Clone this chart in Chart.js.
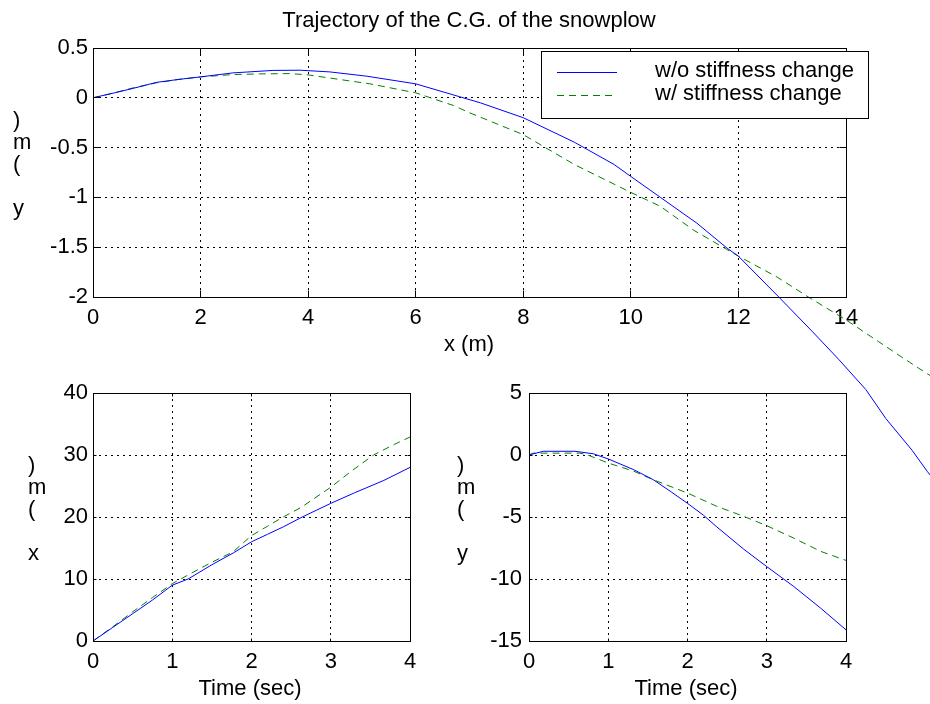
<!DOCTYPE html>
<html><head><meta charset="utf-8">
<script src="https://cdn.jsdelivr.net/npm/chart.js@4.4.1/dist/chart.umd.min.js"></script>
<style>
html,body{margin:0;padding:0;background:#fff;}
#wrap{position:relative;width:930px;height:704px;overflow:hidden;background:#fff;}
canvas{position:absolute;left:0;top:0;}
</style></head><body>
<div id="wrap">
<canvas id="cBL" width="930" height="704"></canvas>
<canvas id="cBR" width="930" height="704"></canvas>
<canvas id="cTop" width="930" height="704"></canvas>
</div>
<script>
// ---------- text ----------
const titleText = 'Trajectory of the C.G. of the snowplow';
const seriesNames = ['w/o stiffness change', 'w/ stiffness change'];
const topXLabel = 'x (m)';
const topYLabel = 'y (m)';
const blXLabel = 'Time (sec)';
const blYLabel = 'x (m)';
const brXLabel = 'Time (sec)';
const brYLabel = 'y (m)';

// ---------- data: trajectory (x vs y) ----------
const trajXNo   = [0, 0.4, 0.75, 1.18, 1.6, 2, 2.6, 3.35, 3.85, 4.4, 5.09, 6, 6.82, 7.2, 8, 8.95, 9.69, 10, 10.55, 11.23, 11.79, 12, 12.75, 13.38, 13.87, 14.37, 14.74, 15.23, 15.51, 15.8];
const trajYNo   = [0, 0.05, 0.095, 0.155, 0.185, 0.21, 0.25, 0.275, 0.277, 0.26, 0.217, 0.14, 0.01, -0.05, -0.2, -0.446, -0.67, -0.79, -1.0, -1.26, -1.51, -1.59, -2.0, -2.35, -2.63, -2.93, -3.22, -3.54, -3.75, -3.95];
const trajXWith = [0, 0.4, 0.75, 1.18, 1.6, 2, 2.6, 3.1, 3.66, 4, 4.6, 5.15, 6, 6.7, 7.0, 8, 8.95, 10, 10.55, 11.17, 12, 12.72, 13.3, 14.0, 14.61, 15.11, 15.51, 15.8];
const trajYWith = [0, 0.05, 0.1, 0.15, 0.185, 0.21, 0.233, 0.24, 0.243, 0.23, 0.183, 0.14, 0.05, -0.077, -0.15, -0.37, -0.67, -0.95, -1.09, -1.33, -1.59, -1.8, -2.0, -2.23, -2.45, -2.63, -2.77, -2.87];

// ---------- data: x vs time ----------
const tNoX   = [0, 0.25, 0.5, 0.75, 1, 1.2, 1.5, 1.77, 2, 2.2, 2.4, 2.64, 3, 3.3, 3.67, 4];
const xNo    = [0, 2.2, 4.4, 6.6, 9.0, 10.0, 12.3, 14.2, 16.0, 17.2, 18.4, 20.0, 22.2, 23.9, 25.9, 28.0];
const tWithX = [0, 0.25, 0.5, 0.75, 1, 1.25, 1.5, 1.77, 2, 2.2, 2.4, 2.62, 3, 3.25, 3.54, 3.8, 4];
const xWith  = [0, 2.3, 4.7, 7.0, 9.25, 11.0, 12.7, 14.4, 17.0, 18.5, 20.0, 21.5, 24.8, 27.3, 30.0, 31.7, 32.9];

// ---------- data: y vs time ----------
const tNoY   = [0, 0.18, 0.58, 0.81, 1, 1.32, 1.57, 1.8, 2, 2.2, 2.37, 2.71, 3, 3.34, 3.68, 4];
const yNo    = [0, 0.3, 0.3, 0.1, -0.32, -1.18, -2.0, -3.0, -3.9, -4.85, -5.8, -7.6, -9.0, -10.6, -12.35, -14.1];
const tWithY = [0, 0.05, 0.64, 0.73, 1, 1.32, 1.57, 2, 2.37, 2.71, 3, 3.34, 3.68, 4];
const yWith  = [0, 0.15, 0.15, 0.03, -0.65, -1.3, -2.0, -3.07, -4.14, -4.95, -5.7, -6.7, -7.77, -8.5];

// ---------- ticks ----------
const topXTicks  = [0, 2, 4, 6, 8, 10, 12, 14];
const topYTicks  = [-2, -1.5, -1, -0.5, 0, 0.5];
const timeTicks  = [0, 1, 2, 3, 4];
const blYTicks   = [0, 10, 20, 30, 40];
const brYTicks   = [-15, -10, -5, 0, 5];

// ---------- styling ----------
const FONT = '"Liberation Sans", Arial, Helvetica, sans-serif';
const FS = 22;
const BLUE = '#0000ff';
const GREEN = '#008000';
const DASH = [7, 5];
const W = 930, H = 704;

function pts(xs, ys) { return xs.map((x, i) => ({x: x, y: ys[i]})); }

const decoPlugin = {
  id: 'deco',
  afterDraw(chart, args, o) {
    const ctx = chart.ctx, a = chart.chartArea;
    const al = v => Math.round(v - 0.5) + 0.5;
    ctx.save();
    ctx.setLineDash([]);
    ctx.strokeStyle = '#000';
    ctx.lineWidth = 1;
    const L = al(a.left), R = al(a.right), T = al(a.top), B = al(a.bottom);
    // inward tick marks
    const tl = o.tickLen || 4;
    ctx.beginPath();
    const xs = chart.scales.x, ys = chart.scales.y;
    xs.ticks.forEach(t => {
      const p = al(xs.getPixelForValue(t.value));
      ctx.moveTo(p, B); ctx.lineTo(p, B - tl);
      ctx.moveTo(p, T); ctx.lineTo(p, T + tl);
    });
    ys.ticks.forEach(t => {
      const p = al(ys.getPixelForValue(t.value));
      ctx.moveTo(L, p); ctx.lineTo(L + tl, p);
      ctx.moveTo(R, p); ctx.lineTo(R - tl, p);
    });
    ctx.stroke();
    ctx.strokeRect(L, T, R - L, B - T);
    // texts
    ctx.fillStyle = '#000';
    ctx.font = FS + 'px ' + FONT;
    ctx.textBaseline = 'alphabetic';
    (o.texts || []).forEach(t => {
      ctx.textAlign = t.align || 'center';
      ctx.fillText(t.text, t.x, t.y);
    });
    // stacked y label (characters in reverse order, as in the figure)
    if (o.ylabel) {
      const chars = Array.from(o.ylabel.text).reverse();
      ctx.textAlign = 'left';
      chars.forEach((c, i) => {
        if (c.trim()) ctx.fillText(c, o.ylabel.x, o.ylabel.y + i * o.ylabel.step);
      });
    }
    // legend
    if (o.legend) {
      const g = o.legend;
      ctx.fillStyle = '#fff';
      ctx.fillRect(g.x, g.y, g.w, g.h);
      ctx.strokeStyle = '#000';
      ctx.lineWidth = 1;
      ctx.strokeRect(g.x + 0.5, g.y + 0.5, g.w, g.h);
      chart.data.datasets.forEach((ds, i) => {
        const base = g.firstBaseline + i * g.rowStep;
        const ly = Math.round(base - 5) + 0.5;
        ctx.strokeStyle = ds.borderColor;
        ctx.setLineDash(ds.borderDash || []);
        ctx.beginPath();
        ctx.moveTo(g.lineX1, ly); ctx.lineTo(g.lineX2, ly);
        ctx.stroke();
        ctx.setLineDash([]);
        ctx.fillStyle = '#000';
        ctx.textAlign = 'left';
        ctx.fillText(ds.label, g.textX, base);
      });
    }
    ctx.restore();
  }
};

function makeChart(id, cfg) {
  const yw = 80;
  const area = cfg.area;
  return new Chart(document.getElementById(id), {
    type: 'line',
    data: { datasets: cfg.datasets },
    plugins: [decoPlugin],
    options: {
      responsive: false,
      animation: false,
      events: [],
      devicePixelRatio: 1,
      layout: { padding: { left: area.l - yw, top: area.t, right: W - area.r, bottom: 0 } },
      plugins: {
        legend: { display: false },
        tooltip: { enabled: false },
        title: { display: false },
        deco: cfg.deco
      },
      elements: { point: { radius: 0 }, line: { tension: 0, borderWidth: 1 } },
      scales: {
        x: {
          type: 'linear',
          bounds: 'data',
          min: cfg.xFixed ? undefined : cfg.xMin,
          max: cfg.xFixed ? undefined : cfg.xMax,
          afterDataLimits: s => { s.min = cfg.xMin; s.max = cfg.xMax; },
          afterBuildTicks: s => { s.ticks = cfg.xTicks.map(v => ({value: v})); },
          afterFit: s => { s.height = H - area.b; },
          grid: { color: '#000', lineWidth: 1, drawTicks: false },
          border: { display: false, dash: [2, 4] },
          ticks: {
            autoSkip: false, maxRotation: 0, padding: 8, color: '#000',
            font: { family: FONT, size: FS },
            callback: v => String(v)
          }
        },
        y: {
          type: 'linear',
          bounds: 'data',
          min: cfg.yMin, max: cfg.yMax,
          afterBuildTicks: s => { s.ticks = cfg.yTicks.map(v => ({value: v})); },
          afterFit: s => { s.width = yw; },
          grid: { color: '#000', lineWidth: 1, drawTicks: false },
          border: { display: false, dash: [2, 4] },
          ticks: {
            autoSkip: false, padding: cfg.yPad, color: '#000',
            font: { family: FONT, size: FS },
            callback: v => String(v)
          }
        }
      }
    }
  });
}

// bottom-left: x vs time
makeChart('cBL', {
  area: { l: 93, t: 393, r: 410, b: 641 },
  xMin: 0, xMax: 4, xTicks: timeTicks,
  yMin: 0, yMax: 40, yTicks: blYTicks, yPad: 5,
  datasets: [
    { label: seriesNames[0], data: pts(tNoX, xNo), borderColor: BLUE, borderWidth: 1, fill: false },
    { label: seriesNames[1], data: pts(tWithX, xWith), borderColor: GREEN, borderDash: DASH, borderWidth: 1, fill: false }
  ],
  deco: {
    tickLen: 3,
    texts: [{ text: blXLabel, x: 250, y: 695 }],
    ylabel: { text: blYLabel, x: 28, y: 472, step: 22 }
  }
});

// bottom-right: y vs time
makeChart('cBR', {
  area: { l: 529, t: 393, r: 846, b: 641 },
  xMin: 0, xMax: 4, xTicks: timeTicks,
  yMin: -15, yMax: 5, yTicks: brYTicks, yPad: 7,
  datasets: [
    { label: seriesNames[0], data: pts(tNoY, yNo), borderColor: BLUE, borderWidth: 1, fill: false },
    { label: seriesNames[1], data: pts(tWithY, yWith), borderColor: GREEN, borderDash: DASH, borderWidth: 1, fill: false }
  ],
  deco: {
    tickLen: 3,
    texts: [{ text: brXLabel, x: 686, y: 695 }],
    ylabel: { text: brYLabel, x: 457, y: 472, step: 22 }
  }
});

// top: trajectory (lines continue past the axes box, as in the figure)
makeChart('cTop', {
  area: { l: 93, t: 48, r: 846, b: 297 },
  xFixed: true,
  xMin: 0, xMax: 14, xTicks: topXTicks,
  yMin: -2, yMax: 0.5, yTicks: topYTicks, yPad: 5,
  datasets: [
    { label: seriesNames[0], data: pts(trajXNo, trajYNo), borderColor: BLUE, borderWidth: 1, fill: false, clip: false },
    { label: seriesNames[1], data: pts(trajXWith, trajYWith), borderColor: GREEN, borderDash: DASH, borderWidth: 1, fill: false, clip: false }
  ],
  deco: {
    tickLen: 7,
    texts: [
      { text: titleText, x: 469, y: 27 },
      { text: topXLabel, x: 469, y: 351 }
    ],
    ylabel: { text: topYLabel, x: 13, y: 127, step: 22 },
    legend: { x: 541, y: 51, w: 327, h: 67, lineX1: 557, lineX2: 617, textX: 655, firstBaseline: 77, rowStep: 23 }
  }
});
</script>
</body></html>
